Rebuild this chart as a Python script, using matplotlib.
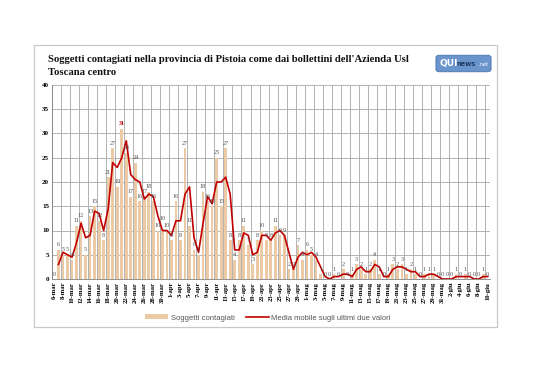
import matplotlib
matplotlib.use("Agg")
import matplotlib.pyplot as plt
import numpy as np
import pandas as pd
from matplotlib.patches import Rectangle, FancyBboxPatch, Patch
from matplotlib.lines import Line2D

# ---- data ----
dates = pd.date_range("2020-03-06", "2020-06-10")
month_names = {3: "mar", 4: "apr", 5: "mag", 6: "giu"}
day_labels = [f"{d.day}-{month_names[d.month]}" for d in dates]

contagiati = [0, 6, 5, 5, 4, 11, 12, 5, 13, 15, 12, 8, 21, 27, 19, 31, 26, 17, 24, 16,
              17, 18, 16, 10, 10, 10, 8, 16, 8, 27, 11, 6, 5, 18, 16, 15, 25, 15, 27, 8,
              4, 8, 11, 7, 3, 8, 10, 8, 8, 11, 9, 9, 2, 2, 7, 4, 6, 5, 4, 1,
              0, 0, 1, 0, 2, 0, 1, 3, 2, 1, 2, 4, 1, 0, 1, 3, 2, 3, 1, 2,
              1, 0, 1, 1, 1, 0, 0, 0, 0, 1, 0, 1, 0, 0, 0, 1, 0]

series_bar = "Soggetti contagiati"
series_line = "Media mobile sugli ultimi due valori"
title = ("Soggetti contagiati nella provincia di Pistoia come dai bollettini dell'Azienda Usl\n"
         "Toscana centro")
y_ticks = [0, 5, 10, 15, 20, 25, 30, 35, 40]

media = pd.Series(contagiati, dtype=float).rolling(2).mean()

# ---- figure ----
fig = plt.figure(figsize=(5.38, 3.8), dpi=100)
fig.patch.set_facecolor("white")

# card
card = Rectangle((34 / 538, 1 - 327 / 380), 463 / 538, 282 / 380, transform=fig.transFigure,
                 facecolor="white", edgecolor="#c8c8c8", linewidth=0.9, zorder=-5)
fig.patches.append(card)

ax = fig.add_axes([51.7 / 538, 1 - 279 / 380, (490 - 51.7) / 538, (279 - 85) / 380])
ax.set_zorder(2)
ax.patch.set_alpha(0)
x = np.arange(len(contagiati))
ax.bar(x, contagiati, width=0.6, color="#EDCAA6", zorder=2)
ax.plot(x, media, color="#C00000", linewidth=1.2, zorder=3)

serif = ["Liberation Serif", "DejaVu Serif"]
prev_lift = False
for i, v in enumerate(contagiati):
    col = "#C00000" if v == max(contagiati) else "#505050"
    lift = 0.0
    # stagger consecutive identical two-digit labels so they stay legible
    if i > 0 and v >= 10 and contagiati[i - 1] == v and not prev_lift:
        lift = 1.4
    prev_lift = lift > 0
    ax.text(i, v + 0.5 + lift, str(v), ha="center", va="bottom", fontsize=4.4,
            family=serif, color=col, fontweight="bold" if v == max(contagiati) else "normal",
            zorder=4)

ax.set_xlim(-0.5, len(contagiati) - 0.5)
ax.set_ylim(0, 40)
ax.set_yticks(y_ticks)
ax.set_yticklabels([str(t) for t in y_ticks], family=serif, fontsize=5, fontweight="bold")
ax.set_xticks(x[::2])
ax.set_xticklabels(day_labels[::2], rotation=90, family=serif, fontsize=4.8, fontweight="bold")
ax.set_xticks(np.arange(-0.5, len(contagiati), 2), minor=True)
ax.tick_params(axis="both", which="both", length=0, pad=2)
ax.grid(axis="y", color="#a6a6a6", linewidth=0.6, zorder=0)
ax.grid(axis="x", which="minor", color="#a6a6a6", linewidth=0.6, zorder=0)
ax.set_axisbelow(True)
for s in ["top", "right"]:
    ax.spines[s].set_visible(False)
ax.spines["left"].set_color("#808080")
ax.spines["bottom"].set_color("#808080")
ax.spines["left"].set_linewidth(0.6)
ax.spines["bottom"].set_linewidth(0.6)

# title
fig.text(48 / 538, 1 - 55.5 / 380, title, ha="left", va="top", family=serif,
         fontsize=7.7, fontweight="bold", color="#111111", linespacing=1.5)

# logo
logo = FancyBboxPatch((437 / 538, 1 - 71 / 380), 53 / 538, 15 / 380,
                      boxstyle="round,pad=0.002,rounding_size=0.006", transform=fig.transFigure,
                      facecolor="#6a94cc", edgecolor="#4a74ac", linewidth=0.6)
fig.patches.append(logo)
fig.text(439 / 538, 1 - 63.5 / 380, "QUI", ha="left", va="center", fontsize=6.5,
         fontweight="bold", color="white", family="DejaVu Sans")
fig.text(456.5 / 538, 1 - 64 / 380, "news", ha="left", va="center", fontsize=4.8,
         fontweight="bold", color="#1e3b66", family="DejaVu Sans")
fig.text(478.5 / 538, 1 - 64.5 / 380, ".net", ha="left", va="center", fontsize=3.6,
         color="white", family="DejaVu Sans")

# legend
handles = [Patch(facecolor="#EDCAA6", edgecolor="none", label=series_bar),
           Line2D([0], [0], color="#C00000", linewidth=1.2, label=series_line)]
leg = fig.legend(handles=handles, loc="center", bbox_to_anchor=(268 / 538, 1 - 318 / 380),
                 ncol=2, frameon=False, prop={"family": "Liberation Sans", "size": 5.5},
                 handlelength=3, handleheight=0.6, columnspacing=1.5, handletextpad=0.3)
for t in leg.get_texts():
    t.set_color("#555555")

fig.savefig("out.png", dpi=100, facecolor="white")
